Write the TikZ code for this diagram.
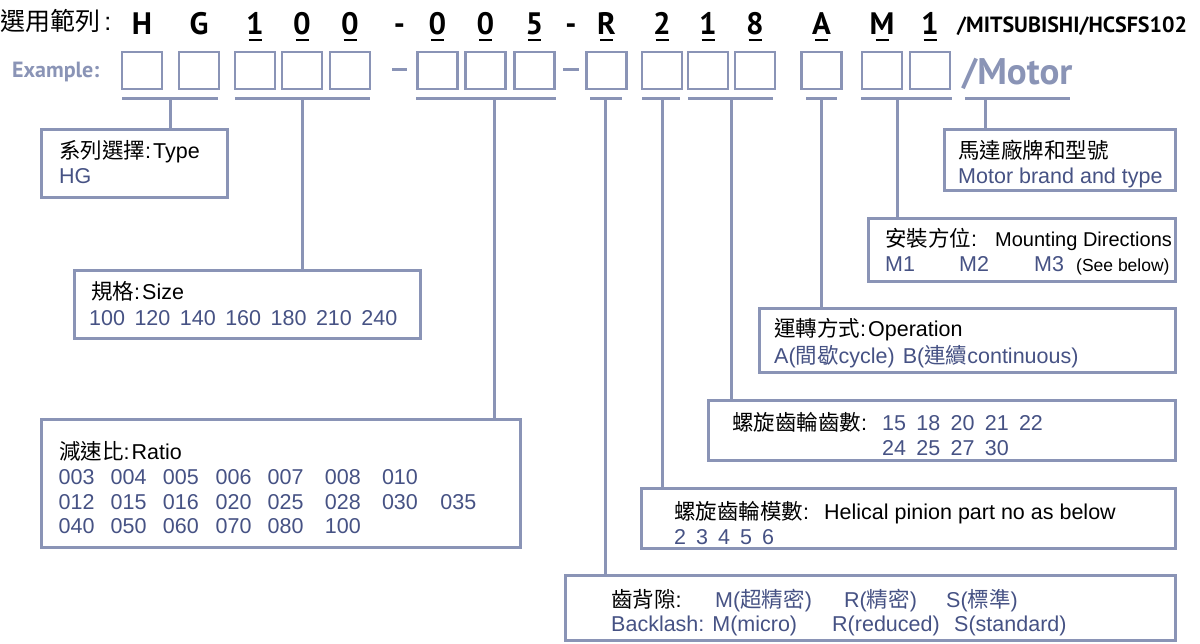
\documentclass[tikz,border=0pt]{standalone}
\usepackage{fontspec}
\setmainfont{Liberation Sans}
\newfontfamily\cjk{Noto Sans CJK TC}
\newfontfamily\hdr{PT Sans}
\newcommand{\zh}[1]{{\cjk #1}}
\definecolor{frame}{RGB}{138,148,182}
\definecolor{btext}{RGB}{70,82,132}
\begin{document}
\begin{tikzpicture}[x=1pt,y=-1pt,
  sbox/.style={draw=frame,line width=2.8pt,minimum width=40pt,minimum height=37pt,inner sep=0pt,outer sep=0pt},
  dbox/.style={draw=frame,line width=3pt,inner sep=0pt,outer sep=0pt,anchor=north west},
  conn/.style={draw=frame,line width=3pt},
  hl/.style={anchor=base,inner sep=0pt,font=\hdr\bfseries\fontsize{31}{33}\selectfont},
  ul/.style={line width=2.4pt},
  tt/.style={anchor=base west,inner sep=0pt,font=\fontsize{21.5}{24}\selectfont},
  bt/.style={tt,text=btext},
]
\useasboundingbox[fill=white] (0,0) rectangle (1200,644);

% ---------- header ----------
\node[anchor=base west,inner sep=0pt,font=\fontsize{25}{28}\selectfont] (title) at (0,31) {\zh{選用範列}\,:};
\node[anchor=base west,inner sep=0pt,font=\hdr\bfseries\fontsize{22}{24}\selectfont] (brand) at (957,33) {/MITSUBISHI/HCSFS102};
\node[anchor=base west,inner sep=0pt,text=frame,font=\hdr\bfseries\fontsize{22}{24}\selectfont] (example) at (12,78) {Example:};
\node[anchor=base west,inner sep=0pt,text=frame,font=\hdr\bfseries\fontsize{37}{40}\selectfont] (motor) at (962,85) {/Motor};

% small boxes
\foreach \n/\x in {1/142,2/199,3/255,4/302,5/350,6/437.5,7/485.5,8/534.5,9/606.5,10/662,11/708,12/755,13/821.5,14/882,15/930}{
  \node[sbox] (b\n) at (\x,70.5) {};
}
% dashes between boxes
\coordinate (d1a) at (392,70); \coordinate (d1b) at (407,70);
\coordinate (d2a) at (563,70); \coordinate (d2b) at (579,70);
\draw[conn] (d1a) -- (d1b);
\draw[conn] (d2a) -- (d2b);

% header letters
\foreach \n/\c in {1/H,2/G,3/1,4/0,5/0,6/0,7/0,8/5,9/R,10/2,11/1,12/8,13/A,14/M,15/1}{
  \node[hl] (h\n) at (b\n.center |- 0,35) {\c};
}
\node[hl] (hd1) at (399.5,35) {-};
\node[hl] (hd2) at (571,35) {-};
\foreach \n in {3,4,5,6,7,8,9,10,11,12,13,14,15}{
  \draw[ul] ([xshift=-6.5pt]b\n.center |- 0,40) -- ([xshift=6.5pt]b\n.center |- 0,40);
}

% ---------- detail boxes ----------
\node[dbox,minimum width=186pt,minimum height=68pt] (typebox) at (41.5,129.5) {};
\node[dbox,minimum width=346pt,minimum height=68pt] (sizebox) at (74.5,270.5) {};
\node[dbox,minimum width=479pt,minimum height=128pt] (ratiobox) at (41.5,419.5) {};
\node[dbox,minimum width=231pt,minimum height=61pt] (motorbox) at (944.5,129.5) {};
\node[dbox,minimum width=307pt,minimum height=63pt] (mountbox) at (868.5,218.5) {};
\node[dbox,minimum width=416pt,minimum height=64pt] (opbox) at (759.5,308.5) {};
\node[dbox,minimum width=467pt,minimum height=60pt] (teethbox) at (708.5,400.5) {};
\node[dbox,minimum width=534pt,minimum height=60pt] (helbox) at (641.5,488.5) {};
\node[dbox,minimum width=610pt,minimum height=65pt] (blbox) at (565.5,575.5) {};

% ---------- brackets and connectors ----------
\foreach \n/\l/\r/\t/\bx in {1/122/218/170/typebox,2/235/370/302/sizebox,3/416/556/494/ratiobox,4/590/622/605/blbox,5/642/680/662/helbox,6/688/773/731/teethbox,7/806/837/821/opbox,8/861/952/897/mountbox,9/965/1070/985/motorbox}{
  \coordinate (bl\n) at (\l,99);
  \coordinate (br\n) at (\r,99);
  \coordinate (bt\n) at (\t,99);
  \draw[conn] (bl\n) -- (br\n);
  \draw[conn] (bt\n) -- (\bx.north -| bt\n);
}

% ---------- texts ----------
\node[tt] (t1) at (59,159) {\zh{系列選擇}:\hspace{2pt}Type};
\node[bt] (t1b) at (59,184) {HG};

\node[tt] (t2) at (91,300) {\zh{規格}:\hspace{2pt}Size};
\node[bt] (t2b) at (89,326) {100\hspace{9.5pt}120\hspace{9.5pt}140\hspace{9.5pt}160\hspace{9.5pt}180\hspace{9.5pt}210\hspace{9.5pt}240};

\node[tt] (t3) at (59,459) {\zh{減速比}:\hspace{2pt}Ratio};
\foreach \r/\y/\list in {1/484/{003,004,005,006,007,008,010},2/509/{012,015,016,020,025,028,030,035},3/533/{040,050,060,070,080,100}}{
  \foreach \v [count=\i] in \list {
    \pgfmathsetmacro{\xx}{{58.5,110.5,162.7,215.5,267.5,324.7,381.8,440.2}[\i-1]}
    \node[bt] (r\r c\i) at (\xx,\y) {\v};
  }
}

\node[tt] (t4) at (958,159) {\zh{馬達廠牌和型號}};
\node[bt] (t4b) at (958,184) {Motor brand and type};

\node[tt] (t5) at (885,247) {\zh{安裝方位}:};
\node[tt,font=\fontsize{20}{24}\selectfont] (t5r) at (995,247) {Mounting Directions};
\node[bt] (t5a) at (885,272) {M1};
\node[bt] (t5c) at (959,272) {M2};
\node[bt] (t5d) at (1034,272) {M3};
\node[tt,font=\fontsize{17.5}{20}\selectfont] (t5e) at (1076,272) {(See below)};

\node[tt] (t6) at (774,337) {\zh{運轉方式}:\hspace{2pt}Operation};
\node[bt] (t6b) at (774,363) {A(\zh{間歇}cycle)\hspace{8pt}B(\zh{連續}continuous)};

\node[tt] (t7) at (732,430) {\zh{螺旋齒輪齒數}:};
\node[bt] (t7a) at (882,430) {15\hspace{10.3pt}18\hspace{10.3pt}20\hspace{10.3pt}21\hspace{10.3pt}22};
\node[bt] (t7b) at (882,455) {24\hspace{10.3pt}25\hspace{10.3pt}27\hspace{10.3pt}30};

\node[tt] (t8) at (674,519) {\zh{螺旋齒輪模數}:};
\node[tt] (t8r) at (824,519) {Helical pinion part no as below};
\node[bt] (t8b) at (674,544) {2\hspace{10pt}3\hspace{10pt}4\hspace{10pt}5\hspace{10pt}6};

\node[tt] (t9) at (611,607) {\zh{齒背隙}:};
\node[bt] (t9a) at (715,607) {M(\zh{超精密})};
\node[bt] (t9b) at (844,607) {R(\zh{精密})};
\node[bt] (t9c) at (946,607) {S(\zh{標準})};
\node[bt] (t9d) at (611,631) {Backlash: M(micro)};
\node[bt] (t9e) at (832,631) {R(reduced)};
\node[bt] (t9f) at (954,631) {S(standard)};
\end{tikzpicture}
\end{document}
